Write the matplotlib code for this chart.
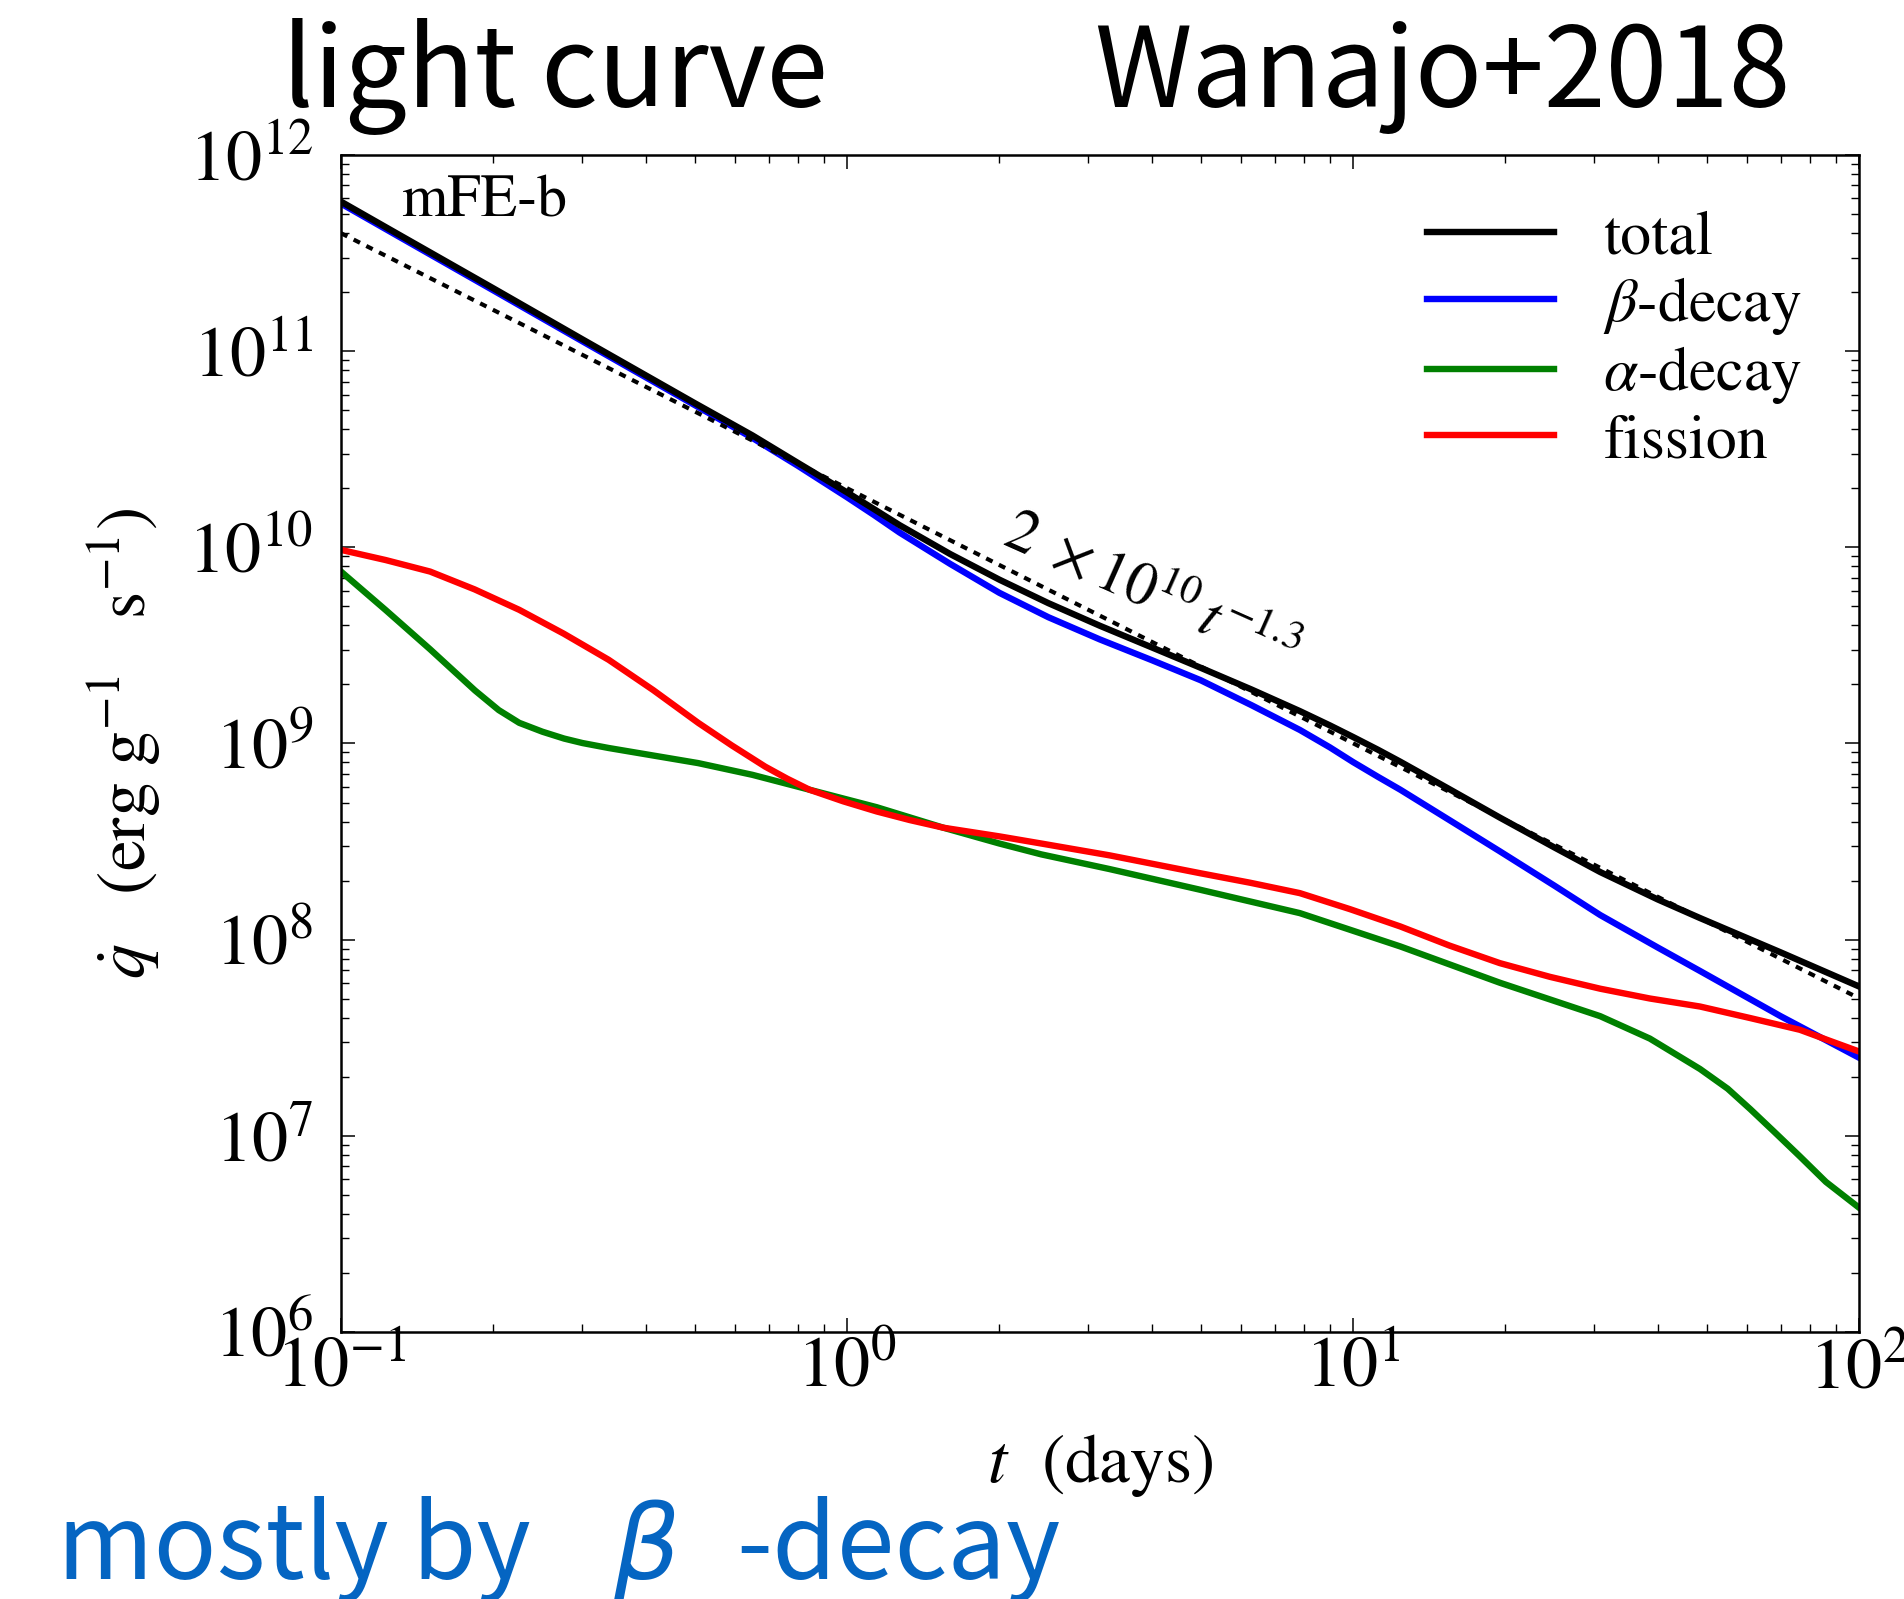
import matplotlib
matplotlib.use("Agg")
import matplotlib.pyplot as plt
import numpy as np
from matplotlib.ticker import LogLocator, NullFormatter

plt.rcParams['font.family'] = 'STIXGeneral'
plt.rcParams['mathtext.fontset'] = 'stix'

# heating rate of the mFE-b model (erg g^-1 s^-1) versus time (days)
t_days = [0.1, 0.13, 0.2, 0.3, 0.4, 0.5, 0.65, 0.8, 1.0, 1.13, 1.27, 1.6,
          2.0, 2.5, 3.16, 4.0, 5.0, 6.3, 7.85, 9.0, 10, 11.2, 12.4, 15.5,
          19.5, 25, 30.8, 40, 48.5, 70, 100]
q_total = [5.78e11, 3.93e11, 2.09e11, 1.148e11, 7.53e10, 5.43e10, 3.72e10,
           2.69e10, 1.905e10, 1.567e10, 1.297e10, 9.23e9, 6.84e9, 5.19e9,
           3.98e9, 3.09e9, 2.43e9, 1.884e9, 1.462e9, 1.236e9, 1.079e9,
           9.29e8, 8.07e8, 5.85e8, 4.19e8, 2.95e8, 2.21e8, 1.603e8, 1.288e8,
           8.61e7, 5.77e7]
q_beta = [5.65e11, 3.84e11, 2.04e11, 1.122e11, 7.36e10, 5.31e10, 3.61e10,
          2.60e10, 1.80e10, 1.462e10, 1.189e10, 8.22e9, 5.86e9, 4.40e9,
          3.39e9, 2.66e9, 2.10e9, 1.567e9, 1.172e9, 9.55e8, 8.04e8, 6.76e8,
          5.81e8, 4.07e8, 2.82e8, 1.884e8, 1.334e8, 9.12e7, 6.92e7, 4.07e7,
          2.50e7]

t_fission = [0.1, 0.1225, 0.15, 0.1837, 0.225, 0.2754, 0.338, 0.414, 0.508,
             0.592, 0.689, 0.762, 0.843, 0.983, 1.145, 1.33, 1.55, 2.0, 2.42,
             3.3, 4.99, 6.26, 7.85, 9.86, 12.4, 15.5, 19.5, 24.5, 30.8, 38.6,
             48.5, 61, 76.4, 87.5, 100]
q_fission = [9.70e9, 8.61e9, 7.52e9, 6.10e9, 4.80e9, 3.63e9, 2.67e9, 1.871e9,
             1.274e9, 9.77e8, 7.62e8, 6.61e8, 5.81e8, 5.07e8, 4.50e8, 4.07e8,
             3.72e8, 3.36e8, 3.09e8, 2.69e8, 2.18e8, 1.95e8, 1.726e8, 1.43e8,
             1.167e8, 9.33e7, 7.59e7, 6.46e7, 5.62e7, 5.01e7, 4.56e7, 3.98e7,
             3.47e7, 3.05e7, 2.69e7]

t_alpha = [0.1, 0.1225, 0.15, 0.184, 0.205, 0.225, 0.25, 0.276, 0.3, 0.338,
           0.4, 0.508, 0.65, 0.843, 1.145, 1.55, 2.0, 2.42, 3.3, 4.99, 7.85,
           12.4, 19.5, 30.8, 38.6, 48.5, 55, 61, 68, 76.4, 86, 100]
q_alpha = [7.52e9, 4.79e9, 3.02e9, 1.862e9, 1.479e9, 1.274e9, 1.148e9,
           1.059e9, 1.005e9, 9.48e8, 8.81e8, 7.94e8, 6.92e8, 5.81e8, 4.73e8,
           3.72e8, 3.09e8, 2.72e8, 2.29e8, 1.795e8, 1.365e8, 9.23e7, 6.03e7,
           4.07e7, 3.13e7, 2.19e7, 1.738e7, 1.365e7, 1.047e7, 7.85e6, 5.82e6,
           4.30e6]

# power-law fit q = A t^k
fit_coeff = 2e10
fit_index = -1.3
t_fit = np.array([0.1, 100.0])

series_labels = ['total', r'$\beta$-decay', r'$\alpha$-decay', 'fission']

fig = plt.figure(figsize=(19.04, 15.99), dpi=100)
ax = fig.add_axes([0.1791, 0.1670, 0.7973, 0.7361])

lw = 4.6
ax.plot(t_fit, fit_coeff * t_fit ** fit_index, color='k', lw=3.0,
        linestyle=(0, (1.7, 1.7)), dash_capstyle='butt', zorder=4)
l_beta, = ax.plot(t_days, q_beta, color='#0000ff', lw=lw,
                  label=series_labels[1], solid_joinstyle='round', zorder=2)
l_tot, = ax.plot(t_days, q_total, color='k', lw=lw, label=series_labels[0],
                 solid_joinstyle='round', zorder=3)
l_alpha, = ax.plot(t_alpha, q_alpha, color='#008000', lw=lw,
                   label=series_labels[2], solid_joinstyle='round', zorder=2)
l_fis, = ax.plot(t_fission, q_fission, color='#ff0000', lw=lw,
                 label=series_labels[3], solid_joinstyle='round', zorder=2.5)

ax.set_xscale('log')
ax.set_yscale('log')
ax.set_xlim(0.1, 100)
ax.set_ylim(1e6, 1e12)

ax.xaxis.set_major_locator(LogLocator(base=10, numticks=10))
ax.yaxis.set_major_locator(LogLocator(base=10, numticks=10))
ax.xaxis.set_minor_locator(LogLocator(base=10, subs=np.arange(2, 10), numticks=20))
ax.yaxis.set_minor_locator(LogLocator(base=10, subs=np.arange(2, 10), numticks=20))
ax.xaxis.set_minor_formatter(NullFormatter())
ax.yaxis.set_minor_formatter(NullFormatter())

for s in ax.spines.values():
    s.set_linewidth(1.8)
ax.tick_params(which='both', direction='in', top=True, right=True)
ax.tick_params(which='major', length=10, width=1.1, labelsize=52)
ax.tick_params(which='minor', length=6, width=1.0)
ax.tick_params(axis='x', which='major', pad=3)
ax.tick_params(axis='y', which='major', pad=20)

ax.set_xlabel(r'$t$  (days)', fontsize=50)
ax.xaxis.set_label_coords(0.5, -0.085)
ax.set_ylabel(r'$\dot{q}\ \ \ (\mathrm{erg\ g^{-1}\ \ \ s^{-1}})$', fontsize=50)
ax.yaxis.set_label_coords(-0.117, 0.5)

ax.text(0.0395, 0.948, 'mFE-b', transform=ax.transAxes, fontsize=43,
        va='baseline', ha='left')

ax.text(3.97, 5.8e9, r'$\mathit{2}\ \times\mathit{10}^{\mathit{10}}\,t^{-\mathit{1.3}}$',
        fontsize=43, rotation=-24, ha='center', va='center',
        rotation_mode='anchor')

leg = ax.legend(handles=[l_tot, l_beta, l_alpha, l_fis], loc='upper left',
                bbox_to_anchor=(0.7155, 0.953), frameon=False, fontsize=44.5,
                handlelength=2.05, handletextpad=0.8, labelspacing=0.12,
                borderpad=0, borderaxespad=0)

# slide headings and note
head_font = ['Noto Sans CJK JP', 'DejaVu Sans']
head_y = 0.933
fig.text(0.2916, head_y, 'light curve', fontsize=80, family=head_font,
         va='baseline', ha='center')
fig.text(0.7574, head_y, 'Wanajo+2018', fontsize=80, family=head_font,
         va='baseline', ha='center')

note_color = '#0565c2'
note_y = 0.0125
fig.text(0.1546, note_y, 'mostly by', fontsize=75, family=head_font,
         color=note_color, va='baseline', ha='center')
fig.text(0.3394, note_y, '\u03b2', fontsize=75, family='DejaVu Sans',
         style='italic', color=note_color, va='baseline', ha='center')
fig.text(0.472, note_y, '-decay', fontsize=75, family=head_font,
         color=note_color, va='baseline', ha='center')

fig.savefig('out.png', dpi=100)
